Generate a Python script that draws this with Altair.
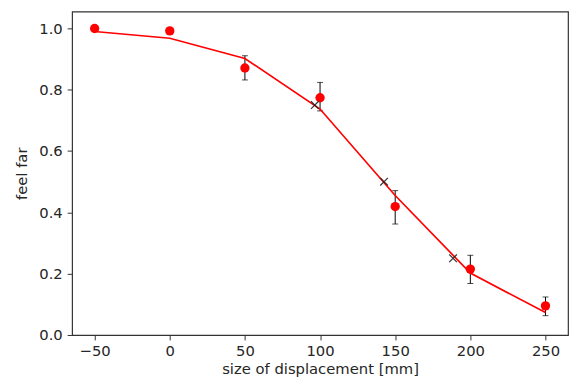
import altair as alt
import pandas as pd

# data
xs = [-50, 0, 50, 100, 150, 200, 250]
means = [1.0, 0.992, 0.871, 0.774, 0.419, 0.215, 0.095]
err_x = [50, 100, 150, 200, 250]
err_lo = [0.832, 0.731, 0.362, 0.168, 0.063]
err_hi = [0.911, 0.824, 0.471, 0.260, 0.124]
fit = [0.990, 0.968, 0.902, 0.737, 0.455, 0.202, 0.073]
cross_x = [96.5, 142.6, 188.5]
cross_y = [0.75, 0.5, 0.25]

x_ticks = [-50, 0, 50, 100, 150, 200, 250]
y_ticks = [0.0, 0.2, 0.4, 0.6, 0.8, 1.0]

pts = pd.DataFrame({"x": xs, "y": means, "fit": fit})
errs = pd.DataFrame({"x": err_x, "lo": err_lo, "hi": err_hi})
crosses = pd.DataFrame({"x": cross_x, "y": cross_y})

xscale = alt.Scale(domain=[-65, 265], nice=False, zero=False)
yscale = alt.Scale(domain=[0, 1.055], nice=False, zero=False)

X = alt.X("x:Q", scale=xscale,
          axis=alt.Axis(values=x_ticks, title="size of displacement [mm]", format="d",
                        labelPadding=4, titlePadding=3))
Y = alt.Y("y:Q", scale=yscale,
          axis=alt.Axis(values=y_ticks, title="feel far", format=".1f",
                        labelPadding=5, titlePadding=9))

bars = alt.Chart(errs).mark_rule(color="black", strokeWidth=1).encode(
    x=alt.X("x:Q", scale=xscale), y=alt.Y("lo:Q", scale=yscale), y2="hi:Q")
cap_lo = alt.Chart(errs).mark_tick(orient="horizontal", color="black", size=6, thickness=1).encode(
    x=alt.X("x:Q", scale=xscale), y=alt.Y("lo:Q", scale=yscale))
cap_hi = alt.Chart(errs).mark_tick(orient="horizontal", color="black", size=6, thickness=1).encode(
    x=alt.X("x:Q", scale=xscale), y=alt.Y("hi:Q", scale=yscale))

points = alt.Chart(pts).mark_circle(color="#ff0000", size=90, opacity=1).encode(x=X, y=Y)

line = alt.Chart(pts).mark_line(color="#ff0000", strokeWidth=1.7).encode(
    x=alt.X("x:Q", scale=xscale), y=alt.Y("fit:Q", scale=yscale))

cross = alt.Chart(crosses).mark_point(
    shape="M-1,-1L1,1M-1,1L1,-1", filled=False, color="#222222", strokeWidth=1.2, size=60, opacity=0.9
).encode(x=alt.X("x:Q", scale=xscale), y=alt.Y("y:Q", scale=yscale))

chart = alt.layer(bars, cap_lo, cap_hi, points, line, cross).properties(
    width=503, height=328,
    autosize=alt.AutoSizeParams(type="none"),
    padding={"left": 65, "top": 1, "right": 2, "bottom": 43},
).configure_view(
    stroke="#333333", strokeWidth=1.2
).configure_axis(
    grid=False, domain=False,
    tickColor="#333333", tickSize=5, tickWidth=1,
    labelFont="DejaVu Sans", labelFontSize=15, labelColor="#262626",
    titleFont="DejaVu Sans", titleFontSize=15, titleFontWeight="normal", titleColor="#262626",
)

chart.save("out.html", embed_options={"renderer": "svg", "actions": False})
